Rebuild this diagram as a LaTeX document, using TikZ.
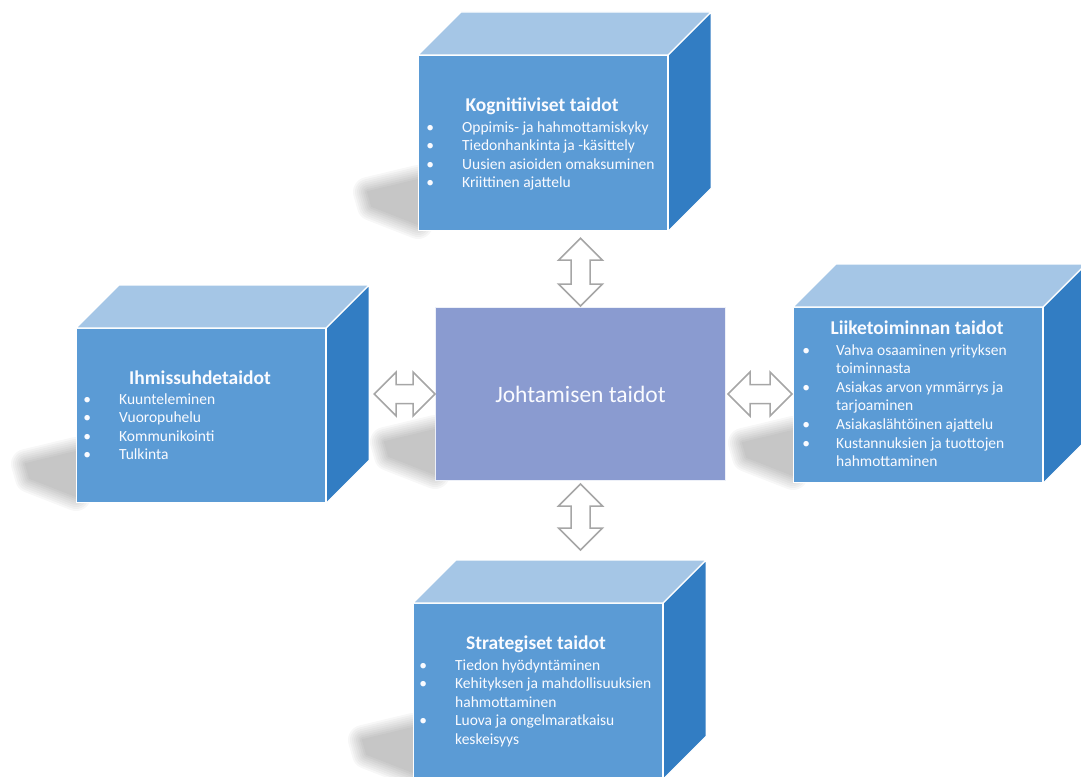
\documentclass[tikz,border=0pt]{standalone}
\usepackage{fontspec}
\setmainfont{Carlito}
\usetikzlibrary{calc}
\definecolor{frontc}{RGB}{91,155,213}
\definecolor{topc}{RGB}{165,198,230}
\definecolor{sidec}{RGB}{50,125,195}
\definecolor{centc}{RGB}{138,155,208}
\definecolor{arrc}{RGB}{166,166,166}
\definecolor{txtc}{RGB}{250,251,255}
\newcommand\blt[1][32pt]{\makebox[0pt][c]{\textbullet}\hspace*{#1}}
\newcommand\cubeshadow[1]{%
  \foreach \w in {30,26,22,18,14,10,6,2}{%
    \begin{scope}[transparency group, opacity=0.032]
      \filldraw[black, line width=\w pt, line join=round]
        ($(#1)+(0,-50)$) -- ($(#1)+(-50,-38)$) -- ($(#1)+(-46,-24)$) -- ($(#1)+(0,-6)$) -- cycle;
    \end{scope}}}
\newcommand\cubefaces[1]{%
  \filldraw[topface] (#1.north west) -- ++(43,-43) -- ($(#1.north east)+(43,-43)$) -- (#1.north east) -- cycle;
  \filldraw[sideface] (#1.north east) -- ++(43,-43) -- ($(#1.south east)+(43,-43)$) -- (#1.south east) -- cycle;}
\newcommand\dblarrow[2]{%
  \filldraw[blockarrow] (#1) -- ($(#1)!22pt!(#2)!22pt!90:(#2)$) -- ($(#1)!22pt!(#2)!9.5pt!90:(#2)$)
    -- ($(#2)!22pt!(#1)!9.5pt!-90:(#1)$) -- ($(#2)!22pt!(#1)!22pt!-90:(#1)$) -- (#2)
    -- ($(#2)!22pt!(#1)!22pt!90:(#1)$) -- ($(#2)!22pt!(#1)!9.5pt!90:(#1)$)
    -- ($(#1)!22pt!(#2)!9.5pt!-90:(#2)$) -- ($(#1)!22pt!(#2)!22pt!-90:(#2)$) -- cycle;}
\tikzset{
  front/.style={fill=frontc, draw=white, line width=1.2pt, anchor=north west, inner sep=0,
    minimum width=249pt, minimum height=175pt},
  topface/.style={fill=topc, draw=white, line width=1.2pt, line join=round},
  sideface/.style={fill=sidec, draw=white, line width=1.2pt, line join=round},
  centerbox/.style={fill=centc, draw=white!85!centc, line width=1pt, anchor=north west, inner sep=0,
    minimum width=290pt, minimum height=173pt, text=txtc, font=\fontsize{23.5}{28}\selectfont},
  blockarrow/.style={fill=white, draw=arrc, line width=1.5pt, line join=miter},
  ttl/.style={anchor=base, text=txtc, inner sep=0, font=\bfseries\fontsize{19.5}{23}\selectfont},
  lst/.style={anchor=base west, align=left, text=txtc, inner sep=0, font=\fontsize{15.5}{18.6}\selectfont}
}
\begin{document}
\begin{tikzpicture}[x=1pt, y=-1pt]
\useasboundingbox (0,0) rectangle (1081,776);
% shadows
\coordinate (shK) at (418,230);
\coordinate (shI) at (76,502);
\coordinate (shC) at (435,480);
\coordinate (shL) at (793,481);
\coordinate (shS) at (413,778);
\cubeshadow{shK}
\cubeshadow{shI}
\cubeshadow{shC}
\cubeshadow{shL}
\cubeshadow{shS}
% cubes
\node[front] (kogF) at (418,55) {};
\cubefaces{kogF}
\node[front, minimum height=174pt] (ihmF) at (76,328) {};
\cubefaces{ihmF}
\node[front] (likF) at (793,307) {};
\cubefaces{likF}
\node[front] (strF) at (413,603) {};
\cubefaces{strF}
% centre
\node[centerbox] (cen) at (435,307) {Johtamisen taidot};
% arrows
\coordinate (aTa) at ($(cen.north |- kogF.south)+(0,7)$);
\coordinate (aTb) at ($(cen.north)+(0,-1)$);
\coordinate (aLa) at ($(ihmF.east |- cen.west)+(48,0)$);
\coordinate (aLb) at (cen.west);
\coordinate (aRa) at ($(cen.east)+(2,0)$);
\coordinate (aRb) at ($(likF.west |- cen.east)+(-1,0)$);
\coordinate (aBa) at ($(cen.south)+(0,3)$);
\coordinate (aBb) at ($(cen.south |- strF.north)+(0,-53)$);
\dblarrow{aTa}{aTb}
\dblarrow{aLa}{aLb}
\dblarrow{aRa}{aRb}
\dblarrow{aBa}{aBb}
% texts (list nodes are placed at the baseline of their last line)
\node[ttl] (kogT) at (542,111) {Kognitiiviset taidot};
\node[lst] (kogL) at (430,187.8) {\blt Oppimis- ja hahmottamiskyky\\\blt Tiedonhankinta ja -käsittely\\\blt Uusien asioiden omaksuminen\\\blt Kriittinen ajattelu};
\node[ttl] (ihmT) at (200,384) {Ihmissuhdetaidot};
\node[lst] (ihmL) at (87,459.8) {\blt Kuunteleminen\\\blt Vuoropuhelu\\\blt Kommunikointi\\\blt Tulkinta};
\node[ttl] (likT) at (917,334) {Liiketoiminnan taidot};
\node[lst] (likL) at (806,466.6) {\blt[30pt]Vahva osaaminen yrityksen\\\hspace*{30pt}toiminnasta\\\blt[30pt]Asiakas arvon ymmärrys ja\\\hspace*{30pt}tarjoaminen\\\blt[30pt]Asiakaslähtöinen ajattelu\\\blt[30pt]Kustannuksien ja tuottojen\\\hspace*{30pt}hahmottaminen};
\node[ttl] (strT) at (536,649) {Strategiset taidot};
\node[lst] (strL) at (423,744.4) {\blt Tiedon hyödyntäminen\\\blt Kehityksen ja mahdollisuuksien\\\hspace*{32pt}hahmottaminen\\\blt Luova ja ongelmaratkaisu\\\hspace*{32pt}keskeisyys};
\end{tikzpicture}
\end{document}
